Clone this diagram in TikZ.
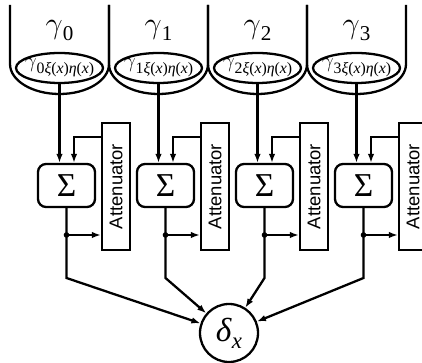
\documentclass[tikz,border=0pt]{standalone}
\usepackage{amsmath,amssymb}
\usepackage{fontspec}
\setmainfont{Liberation Serif}
\newfontfamily\attf{Liberation Sans}
\usepackage{tikz}
\usetikzlibrary{shapes.geometric}
\usetikzlibrary{arrows.meta}
\tikzstyle{wire}=[line width=1.3pt,-{Latex[length=1.8mm,width=1.3mm]}]
\tikzstyle{gam}=[anchor=base,font=\fontsize{19}{21}\selectfont]
\tikzstyle{pool}=[ellipse,minimum width=17.4mm,minimum height=6mm,inner sep=0pt,font=\fontsize{13}{13}\selectfont]
\tikzstyle{sumbox}=[draw,line width=1.3pt,rounded corners=1.6mm,minimum width=11.4mm,minimum height=8.6mm,inner sep=0pt,font=\fontsize{19}{21}\selectfont]
\tikzstyle{attbox}=[draw,line width=1.3pt,rotate=90,minimum width=25.4mm,minimum height=5.6mm,inner sep=0pt,font=\fontsize{10.5}{12}\attf]
\tikzstyle{detector}=[draw,circle,line width=1.3pt,minimum size=11.6mm,inner sep=0pt,font=\fontsize{19}{21}\selectfont]
% one U-shaped vessel, left wall at #1
\newcommand{\vessel}[1]{\draw[line width=1.3pt] (#1,358) -- (#1,299)
  arc[start angle=180,end angle=360,x radius=9.9mm,y radius=6mm] -- ++(0,59);}
% pool outline around a pool node
\newcommand{\rim}[1]{\draw[line width=1.3pt] (#1.center) ellipse [x radius=8.7mm,y radius=3mm];}
\newcommand{\gam}[1]{$\gamma$\raisebox{-0.2em}{\fontsize{12}{12}\selectfont#1}}
\newcommand{\sub}[1]{\makebox[0pt]{$\gamma$\raisebox{-0.25em}{\fontsize{9}{9}\selectfont
  #1\textit{ξ}(\textit{x})\textit{η}(\textit{x})}}}

\begin{document}
\begin{tikzpicture}[x=0.2mm,y=0.2mm]
  \useasboundingbox (0,0) rectangle (422,363);
  \clip (0,0) rectangle (422,363);
  \vessel{10} \vessel{109} \vessel{208} \vessel{307}

  % column 0
  \node[gam] (g0) at (59.5,329) {\gam{0}};
  \node[pool] (e0) at (59.5,295) {\sub{0}}; \rim{e0}
  \node[sumbox] (s0) at (66.5,177.5) {Σ};
  \node[attbox] (a0) at (116,176.5) {Attenuator};
  \coordinate (j0) at (66.5,128);
  \coordinate (b0) at (66.5,85);
  % column 1
  \node[gam] (g1) at (158.5,329) {\gam{1}};
  \node[pool] (e1) at (158.5,295) {\sub{1}}; \rim{e1}
  \node[sumbox] (s1) at (165.5,177.5) {Σ};
  \node[attbox] (a1) at (215,176.5) {Attenuator};
  \coordinate (j1) at (165.5,128);
  \coordinate (b1) at (165.5,85);
  % column 2
  \node[gam] (g2) at (257.5,329) {\gam{2}};
  \node[pool] (e2) at (257.5,295) {\sub{2}}; \rim{e2}
  \node[sumbox] (s2) at (264.5,177.5) {Σ};
  \node[attbox] (a2) at (314,176.5) {Attenuator};
  \coordinate (j2) at (264.5,128);
  \coordinate (b2) at (264.5,85);
  % column 3
  \node[gam] (g3) at (356.5,329) {\gam{3}};
  \node[pool] (e3) at (356.5,295) {\sub{3}}; \rim{e3}
  \node[sumbox] (s3) at (363.5,177.5) {Σ};
  \node[attbox] (a3) at (413,176.5) {Attenuator};
  \coordinate (j3) at (363.5,128);
  \coordinate (b3) at (363.5,85);

  \node[detector] (d) at (229,30) {\textit{δ}\raisebox{-0.2em}{\fontsize{13}{13}\selectfont\textit{x}}};

  % signal paths
  \draw[wire] (e0.south) -- (e0.south |- s0.north);
  \draw[wire] ([yshift=9.9mm]a0.north) -| ([xshift=1.5mm]s0.north);
  \draw[wire] (s0.south) -- (b0) -- (d);
  \draw[wire] (j0) -- (j0 -| a0.north);
  \fill (j0) circle (1.6pt);

  \draw[wire] (e1.south) -- (e1.south |- s1.north);
  \draw[wire] ([yshift=9.9mm]a1.north) -| ([xshift=1.5mm]s1.north);
  \draw[wire] (s1.south) -- (b1) -- (d);
  \draw[wire] (j1) -- (j1 -| a1.north);
  \fill (j1) circle (1.6pt);

  \draw[wire] (e2.south) -- (e2.south |- s2.north);
  \draw[wire] ([yshift=9.9mm]a2.north) -| ([xshift=1.5mm]s2.north);
  \draw[wire] (s2.south) -- (b2) -- (d);
  \draw[wire] (j2) -- (j2 -| a2.north);
  \fill (j2) circle (1.6pt);

  \draw[wire] (e3.south) -- (e3.south |- s3.north);
  \draw[wire] ([yshift=9.9mm]a3.north) -| ([xshift=1.5mm]s3.north);
  \draw[wire] (s3.south) -- (b3) -- (d);
  \draw[wire] (j3) -- (j3 -| a3.north);
  \fill (j3) circle (1.6pt);
\end{tikzpicture}
\end{document}
